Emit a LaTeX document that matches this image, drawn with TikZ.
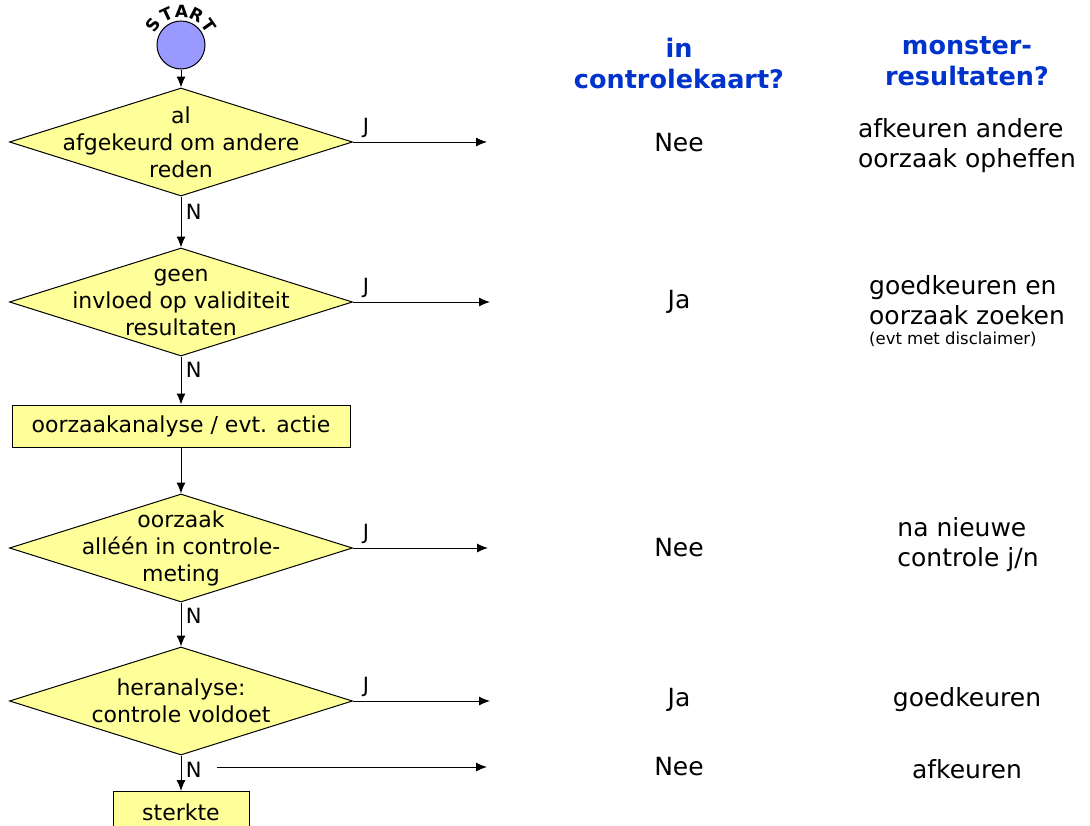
\documentclass[tikz,border=0pt]{standalone}
\usepackage{fontspec}
\setmainfont{DejaVu Sans}
\usetikzlibrary{shapes.geometric,arrows.meta,calc}
\definecolor{keuzegeel}{RGB}{255,255,153}
\definecolor{startblauw}{RGB}{153,153,255}
\definecolor{kopblauw}{RGB}{0,51,204}
\tikzset{>={Latex[length=11pt,width=9pt]}}
\begin{document}
\begin{tikzpicture}[x=1pt,y=-1pt,line width=1pt,
  keuze/.style={diamond,draw,fill=keuzegeel,minimum width=343pt,minimum height=108pt,inner sep=0pt},
  blok/.style={draw,fill=keuzegeel,inner sep=0pt,font=\fontsize{22}{26}\selectfont},
  tekst/.style={font=\fontsize{22}{27}\selectfont,align=center},
  rij/.style={font=\fontsize{25}{30}\selectfont,align=left},
  kop/.style={font=\fontsize{25.5}{31}\selectfont\bfseries,text=kopblauw,align=center},
  jn/.style={font=\fontsize{21}{24}\selectfont}]
\useasboundingbox (0,0) rectangle (1090,825);

% start
\node[circle,draw,fill=startblauw,minimum size=48pt,inner sep=0pt] (st) at (181,45) {};
\foreach \l/\a in {S/144,T/115,A/89,R/63,T/35}
  \node[font=\fontsize{17}{17}\selectfont\bfseries,inner sep=0pt,rotate=\a-90]
    at ($(st)+({34*cos(\a)},{-34*sin(\a)})$) {\l};

% beslissingen
\node[keuze,label={[tekst]center:{al\\afgekeurd om andere\\reden}}] (k1) at (181,142) {};
\node[keuze,label={[tekst]center:{geen\\invloed op validiteit\\resultaten}}] (k2) at (181,302) {};
\node[blok,minimum width=338pt,minimum height=42pt] (oa) at (181,426) {oorzaakanalyse / evt. actie};
\node[keuze,label={[tekst]center:{oorzaak\\alléén in controle-\\meting}}] (k3) at (181,548) {};
\node[keuze,label={[tekst]center:{heranalyse:\\controle voldoet}}] (k4) at (181,701) {};
\node[blok,minimum width=136pt,minimum height=42pt,anchor=north] (sk) at (181,791) {sterkte};

% kolommen
\node[kop] (kop1) at (679,63) {in\\controlekaart?};
\node[kop] (kop2) at (967,61) {monster-\\resultaten?};
\node[rij] (nee1) at (679,143) {Nee};
\node[rij] (r1) at (967,146) {afkeuren andere\\oorzaak opheffen};
\node[rij] (ja1) at (679,302) {Ja};
\node[rij] (r2) at (967,300) {goedkeuren en\\oorzaak zoeken};
\node[font=\fontsize{16.5}{18}\selectfont,anchor=north west,inner ysep=3pt] (r2b) at (r2.south west) {(evt met disclaimer)};
\node[rij] (nee2) at (679,548) {Nee};
\node[rij] (r3) at (968,545) {na nieuwe\\controle j/n};
\node[rij] (ja2) at (679,700) {Ja};
\node[rij] (r4) at (967,700) {goedkeuren};
\node[rij] (nee3) at (679,767) {Nee};
\node[rij] (r5) at (967,769) {afkeuren};

% pijlen omlaag
\draw[->] (st) -- (k1.north);
\draw[->] (k1.south) -- node[jn,right,pos=0.3,xshift=1pt] {N} (k2.north);
\draw[->] (k2.south) -- node[jn,right,pos=0.28,xshift=1pt] {N} (oa.north);
\draw[->] (oa.south) -- (k3.north);
\draw[->] (k3.south) -- node[jn,right,pos=0.3,xshift=1pt] {N} (k4.north);
\draw[->] (k4.south) -- node[jn,right,pos=0.4,xshift=1pt] {N} (sk.north);

% pijlen naar rechts
\coordinate (e1) at (487,142);
\coordinate (e2) at (490,302);
\coordinate (e3) at (488,548);
\coordinate (e4) at (490,701);
\coordinate (b5) at (217,767);
\coordinate (e5) at (487,767);
\draw[->] (k1.east) -- (e1) node[jn,pos=0,above right,xshift=6pt] {J};
\draw[->] (k2.east) -- (e2) node[jn,pos=0,above right,xshift=6pt] {J};
\draw[->] (k3.east) -- (e3) node[jn,pos=0,above right,xshift=6pt] {J};
\draw[->] (k4.east) -- (e4) node[jn,pos=0,above right,xshift=6pt] {J};
\draw[->] (b5) -- (e5);
\end{tikzpicture}
\end{document}
